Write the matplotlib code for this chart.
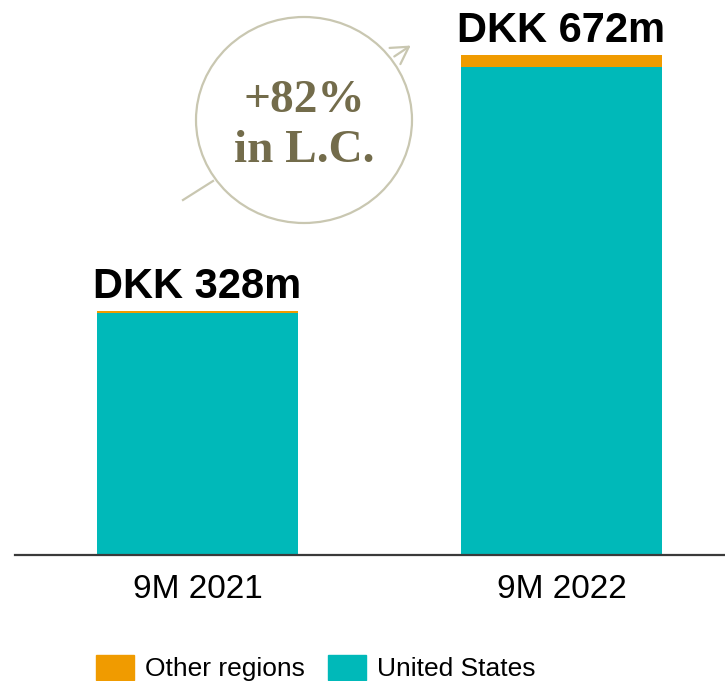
import matplotlib.pyplot as plt
from matplotlib import font_manager
from matplotlib.patches import Ellipse, Patch, FancyArrowPatch
from matplotlib.lines import Line2D

periods = ["9M 2021", "9M 2022"]
united_states = [325, 656]
other_regions = [3, 16]
totals = [328, 672]
growth_lines = ["+82%", "in L.C."]

TEAL = "#00B9B9"
ORANGE = "#F09B00"
KHAKI = "#C9C7B1"
OLIVE = "#736C4B"

plt.rcParams["font.family"] = ["Liberation Sans", "DejaVu Sans"]

# narrow face for the period labels, if present
installed = {f.name for f in font_manager.fontManager.ttflist}
if "Liberation Sans Narrow" in installed:
    tick_family, tick_size = ["Liberation Sans Narrow", "DejaVu Sans"], 27
else:
    tick_family, tick_size = ["Liberation Sans", "DejaVu Sans"], 24

W, H = 725, 681
fig = plt.figure(figsize=(W / 100, H / 100), dpi=100)
ax = fig.add_axes([15 / W, (H - 555) / H, 1 - 15 / W, 555 / H])

x = list(range(len(periods)))
ax.bar(x, united_states, width=0.552, color=TEAL, label="United States")
ax.bar(x, other_regions, width=0.552, bottom=united_states, color=ORANGE,
       label="Other regions")

for xi, tot in zip(x, totals):
    ax.annotate(f"DKK {tot}m", (xi, tot), xytext=(0, 3),
                textcoords="offset points", ha="center", va="bottom",
                fontsize=30, fontweight="bold")

ax.set_xlim(-0.501, 1.449)
ax.set_ylim(0, 746)
ax.set_xticks(x)
ax.set_xticklabels(periods, fontsize=tick_size, family=tick_family)
ax.tick_params(axis="x", length=0, pad=14)
ax.set_yticks([])
for side in ["top", "right", "left"]:
    ax.spines[side].set_visible(False)
ax.spines["bottom"].set_color("#3a3a3a")
ax.spines["bottom"].set_linewidth(1.6)
ax.patch.set_alpha(0)


def fx(px):
    return px / W


def fy(py):
    return 1 - py / H


# growth badge: circle with an arrow passing through it
fig.patches.append(Ellipse((fx(304), fy(120)), 216 / W, 206 / H,
                           transform=fig.transFigure, fill=False,
                           edgecolor=KHAKI, linewidth=1.6))
fig.lines.append(Line2D([fx(183), fx(213)], [fy(200), fy(181)],
                        transform=fig.transFigure, color=KHAKI, linewidth=1.6))
fig.add_artist(FancyArrowPatch(
    (fx(392), fy(58)), (fx(413), fy(44)), transform=fig.transFigure,
    arrowstyle="->,head_length=12,head_width=7", color=KHAKI, linewidth=1.6))
serif = ["Liberation Serif", "DejaVu Serif"]
fig.text(fx(304), fy(112), growth_lines[0], ha="center", va="baseline",
         fontsize=34, fontweight="bold", color=OLIVE, family=serif)
fig.text(fx(304), fy(162), growth_lines[1], ha="center", va="baseline",
         fontsize=34, fontweight="bold", color=OLIVE, family=serif)

handles = [Patch(color=ORANGE, label="Other regions"),
           Patch(color=TEAL, label="United States")]
fig.legend(handles=handles, loc="lower left", bbox_to_anchor=(fx(96), fy(681)),
           ncol=2, frameon=False, fontsize=19, handlelength=1.45,
           handleheight=1.08, handletextpad=0.42, columnspacing=0.85,
           borderaxespad=0, borderpad=0)

fig.savefig("out.png", dpi=100)
